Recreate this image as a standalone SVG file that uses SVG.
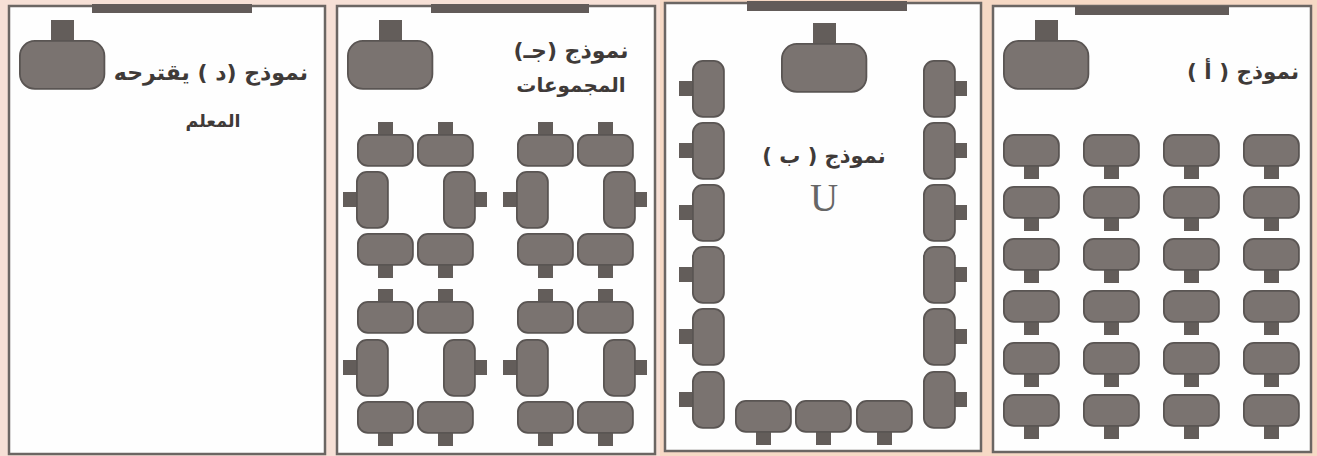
<svg xmlns="http://www.w3.org/2000/svg" width="1317" height="456" viewBox="0 0 1317 456">
<style>
.panel{fill:#fefefe;stroke:#6b6663;stroke-width:2.5}
.bar{fill:#625b59}
.desk{fill:#7a7370;stroke:#5a5553;stroke-width:1.8}
.stem{fill:#635d5a}
.lbl{font-family:"DejaVu Sans",sans-serif;font-weight:bold;fill:#3f3a38;text-anchor:middle}
.lat{font-family:"Liberation Serif",serif;font-size:39px;fill:#666;text-anchor:middle}
</style>
<defs>
<g id="t"><rect class="stem" x="32" y="-20" width="23" height="21"/><rect class="desk" x="0.9" y="0.9" width="84.5" height="48" rx="15"/></g>
<g id="u"><rect class="stem" x="21" y="-12" width="15" height="13"/><rect class="desk" x="0.9" y="0.9" width="55" height="31" rx="10"/></g>
<g id="d"><rect class="stem" x="21" y="31" width="15" height="14"/><rect class="desk" x="0.9" y="0.9" width="55" height="31" rx="10"/></g>
<g id="l"><rect class="stem" x="-13" y="21" width="14" height="15"/><rect class="desk" x="0.9" y="0.9" width="31" height="56" rx="10"/></g>
<g id="r"><rect class="stem" x="31" y="21" width="13" height="15"/><rect class="desk" x="0.9" y="0.9" width="31" height="56" rx="10"/></g>
</defs>
<rect width="1317" height="456" fill="#f6d9c5"/>
<rect x="0" y="0" width="660" height="456" fill="#f6e0d6"/>
<g id="model-d">
<rect class="panel" x="9" y="6" width="316" height="448"/>
<rect class="bar" x="92" y="4" width="160" height="9"/>
<use href="#t" x="19" y="40"/>
<text class="lbl" x="211" y="80" direction="rtl" font-size="22">نموذج (د ) يقترحه</text>
<text class="lbl" x="213" y="127" direction="rtl" font-size="17.5">المعلم</text>
</g>
<g id="model-c">
<rect class="panel" x="337" y="6" width="318" height="448"/>
<rect class="bar" x="431" y="4" width="158" height="9"/>
<use href="#t" x="347" y="40"/>
<text class="lbl" x="571" y="58" direction="rtl" font-size="22">نموذج (جـ)</text>
<text class="lbl" x="571" y="92" direction="rtl" font-size="20">المجموعات</text>
<use href="#u" x="357" y="134"/><use href="#u" x="417" y="134"/><use href="#u" x="517" y="134"/><use href="#u" x="577" y="134"/>
<use href="#l" x="356" y="171"/><use href="#r" x="443" y="171"/><use href="#l" x="516" y="171"/><use href="#r" x="603" y="171"/>
<use href="#d" x="357" y="233"/><use href="#d" x="417" y="233"/><use href="#d" x="517" y="233"/><use href="#d" x="577" y="233"/>
<use href="#u" x="357" y="301"/><use href="#u" x="417" y="301"/><use href="#u" x="517" y="301"/><use href="#u" x="577" y="301"/>
<use href="#l" x="356" y="339"/><use href="#r" x="443" y="339"/><use href="#l" x="516" y="339"/><use href="#r" x="603" y="339"/>
<use href="#d" x="357" y="401"/><use href="#d" x="417" y="401"/><use href="#d" x="517" y="401"/><use href="#d" x="577" y="401"/>
</g>
<g id="model-b">
<rect class="panel" x="665" y="3" width="316" height="448"/>
<rect class="bar" x="747" y="1" width="160" height="10"/>
<use href="#t" x="781" y="43"/>
<text class="lbl" x="824" y="163" direction="rtl" font-size="21">نموذج ( ب )</text>
<text class="lat" x="824" y="211">U</text>
<use href="#l" x="692" y="60"/><use href="#l" x="692" y="122"/><use href="#l" x="692" y="184"/><use href="#l" x="692" y="246"/><use href="#l" x="692" y="308"/><use href="#l" x="692" y="371"/>
<use href="#r" x="923" y="60"/><use href="#r" x="923" y="122"/><use href="#r" x="923" y="184"/><use href="#r" x="923" y="246"/><use href="#r" x="923" y="308"/><use href="#r" x="923" y="371"/>
<use href="#d" x="735" y="400"/><use href="#d" x="795" y="400"/><use href="#d" x="856" y="400"/>
</g>
<g id="model-a">
<rect class="panel" x="993" y="6" width="318" height="446"/>
<rect class="bar" x="1075" y="6" width="154" height="9"/>
<use href="#t" x="1003" y="40"/>
<text class="lbl" x="1243" y="79" direction="rtl" font-size="21.5">نموذج ( أ )</text>
<use href="#d" x="1003" y="134"/><use href="#d" x="1083" y="134"/><use href="#d" x="1163" y="134"/><use href="#d" x="1243" y="134"/>
<use href="#d" x="1003" y="186"/><use href="#d" x="1083" y="186"/><use href="#d" x="1163" y="186"/><use href="#d" x="1243" y="186"/>
<use href="#d" x="1003" y="238"/><use href="#d" x="1083" y="238"/><use href="#d" x="1163" y="238"/><use href="#d" x="1243" y="238"/>
<use href="#d" x="1003" y="290"/><use href="#d" x="1083" y="290"/><use href="#d" x="1163" y="290"/><use href="#d" x="1243" y="290"/>
<use href="#d" x="1003" y="342"/><use href="#d" x="1083" y="342"/><use href="#d" x="1163" y="342"/><use href="#d" x="1243" y="342"/>
<use href="#d" x="1003" y="394"/><use href="#d" x="1083" y="394"/><use href="#d" x="1163" y="394"/><use href="#d" x="1243" y="394"/>
</g>
</svg>
